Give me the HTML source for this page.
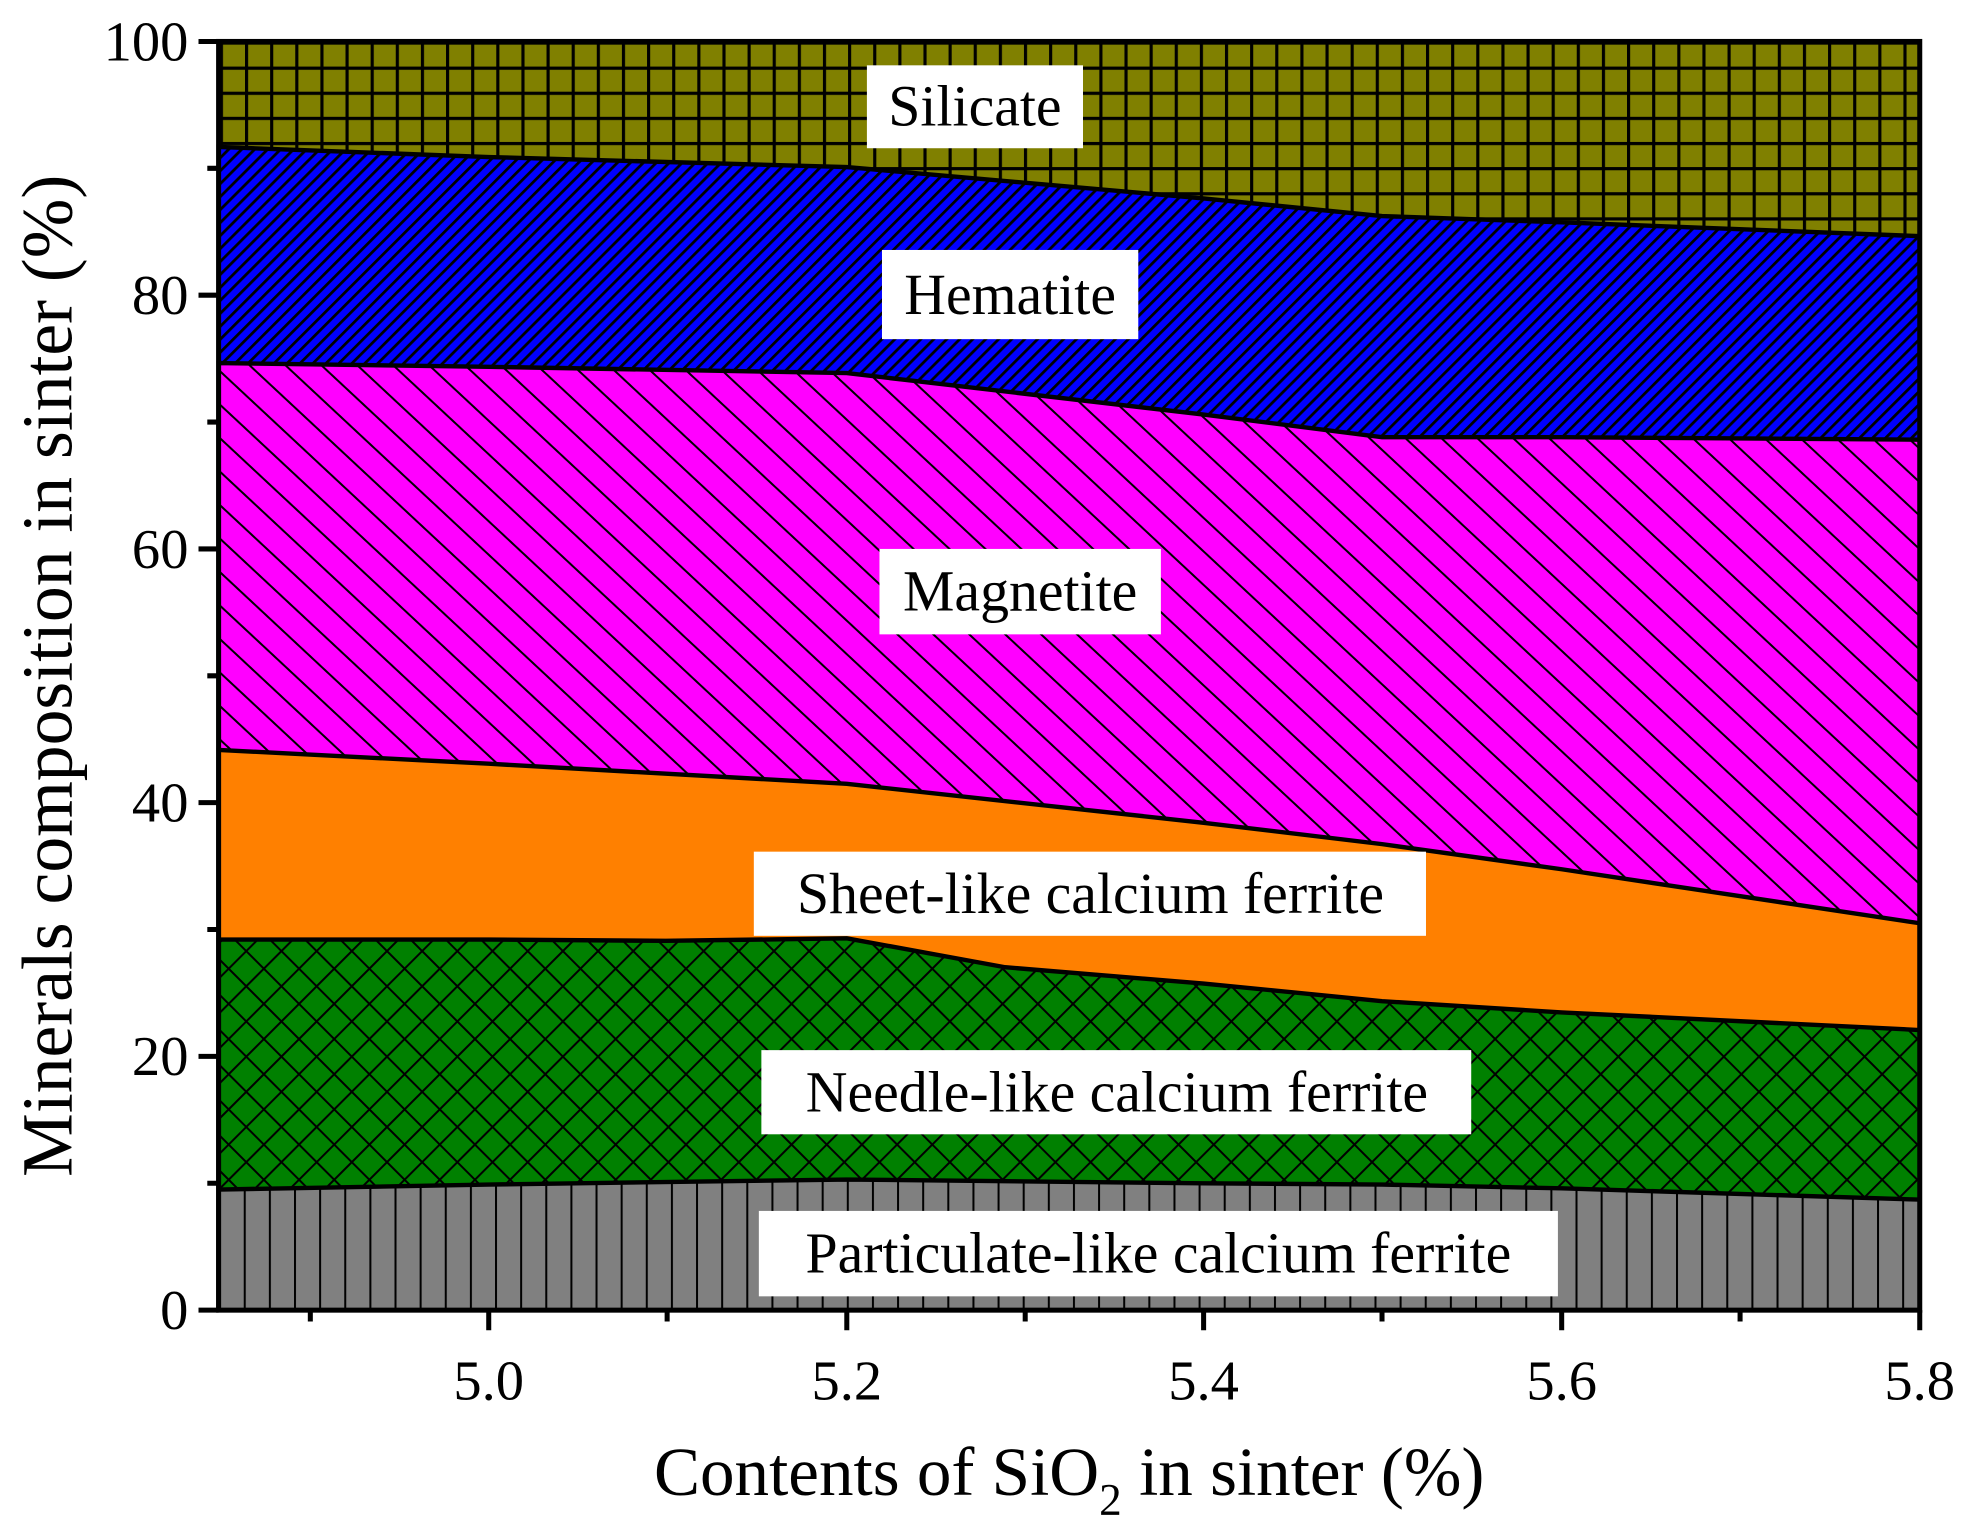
<!DOCTYPE html>
<html><head><meta charset="utf-8"><style>html,body{margin:0;padding:0;background:#fff}svg{display:block}</style></head><body>
<svg width="1970" height="1535" viewBox="0 0 1568 1222" preserveAspectRatio="none" xmlns="http://www.w3.org/2000/svg" font-family="Liberation Serif, serif">
<defs>
<pattern id="grid" patternUnits="userSpaceOnUse" width="20" height="20" x="175" y="33"><rect width="20" height="20" fill="#808000"/><path d="M0 0H20M0 0V20" stroke="#000" stroke-width="5"/></pattern>
<pattern id="hem" patternUnits="userSpaceOnUse" width="7.3" height="7.3" patternTransform="rotate(45)"><rect width="7.3" height="7.3" fill="#0000ff"/><path d="M0 0V7.3" stroke="#000" stroke-width="4.4"/></pattern>
<pattern id="mag" patternUnits="userSpaceOnUse" width="19.5" height="19.5" patternTransform="rotate(-47)"><rect width="19.5" height="19.5" fill="#ff00ff"/><path d="M0 0V19.5" stroke="#000" stroke-width="3.2"/></pattern>
<pattern id="nee" patternUnits="userSpaceOnUse" width="19.8" height="19.8" patternTransform="rotate(45)"><rect width="19.8" height="19.8" fill="#008000"/><path d="M0 0V19.8M0 0H19.8" stroke="#000" stroke-width="3.2"/></pattern>
<pattern id="par" patternUnits="userSpaceOnUse" width="20" height="20" x="174"><rect width="20" height="20" fill="#808080"/><path d="M0 0V20" stroke="#000" stroke-width="3.2"/></pattern>
</defs>
<rect x="174" y="33" width="1354" height="1010" fill="url(#grid)"/>
<path d="M174 117L389 125L674 133L958 158L1100 172L1243 177L1528 188V1043H174Z" fill="url(#hem)" stroke="#000" stroke-width="3.5"/>
<path d="M174 289L389 292L674 297L958 330L1100 348L1243 348L1528 350V1043H174Z" fill="url(#mag)" stroke="#000" stroke-width="3.5"/>
<path d="M174 597L389 608L674 624L958 655L1100 672L1243 692L1528 735V1043H174Z" fill="#ff8000" stroke="#000" stroke-width="3.5"/>
<path d="M174 748L389 748L530 749L674 747L800 770L958 783L1100 797L1243 806L1528 820V1043H174Z" fill="url(#nee)" stroke="#000" stroke-width="3.5"/>
<path d="M174 947L389 943L674 939L958 942L1100 943L1243 946L1528 955V1043H174Z" fill="url(#par)" stroke="#000" stroke-width="3.5"/>
<g fill="#fff">
<rect x="690" y="52" width="172" height="66"/><rect x="702" y="199" width="204" height="71"/><rect x="700" y="437" width="224" height="68"/>
<rect x="600" y="678" width="535" height="67"/><rect x="606" y="836" width="565" height="67"/><rect x="604" y="964" width="636" height="68"/>
</g>
<g font-size="46" text-anchor="middle" fill="#000">
<text x="776" y="100">Silicate</text><text x="804" y="250">Hematite</text><text x="812" y="486">Magnetite</text>
<text x="868" y="727">Sheet-like calcium ferrite</text><text x="889" y="885">Needle-like calcium ferrite</text><text x="922" y="1013">Particulate-like calcium ferrite</text>
</g>
<rect x="174" y="33" width="1354" height="1010" fill="none" stroke="#000" stroke-width="4"/>
<g stroke="#000" stroke-width="4">
<path d="M158 1043H174M158 841H174M158 639H174M158 437H174M158 235H174M158 33H174M165 942H174M165 740H174M165 538H174M165 336H174M165 134H174"/>
<path d="M389 1043V1059M674 1043V1059M958 1043V1059M1243 1043V1059M1528 1043V1059M247 1043V1052M531 1043V1052M816 1043V1052M1100 1043V1052M1385 1043V1052"/>
</g>
<g font-size="45" text-anchor="end"><text x="150" y="1058">0</text><text x="150" y="856">20</text><text x="150" y="654">40</text><text x="150" y="452">60</text><text x="150" y="250">80</text><text x="150" y="48">100</text></g>
<g font-size="45" text-anchor="middle"><text x="389" y="1114">5.0</text><text x="674" y="1114">5.2</text><text x="958" y="1114">5.4</text><text x="1243" y="1114">5.6</text><text x="1528" y="1114">5.8</text></g>
<text x="851" y="1190" font-size="55" text-anchor="middle">Contents of SiO<tspan font-size="36" dy="16">2</tspan><tspan dy="-16"> in sinter (%)</tspan></text>
<text transform="translate(57 538) rotate(-90)" font-size="57" text-anchor="middle">Minerals composition in sinter (%)</text>
</svg>
</body></html>
